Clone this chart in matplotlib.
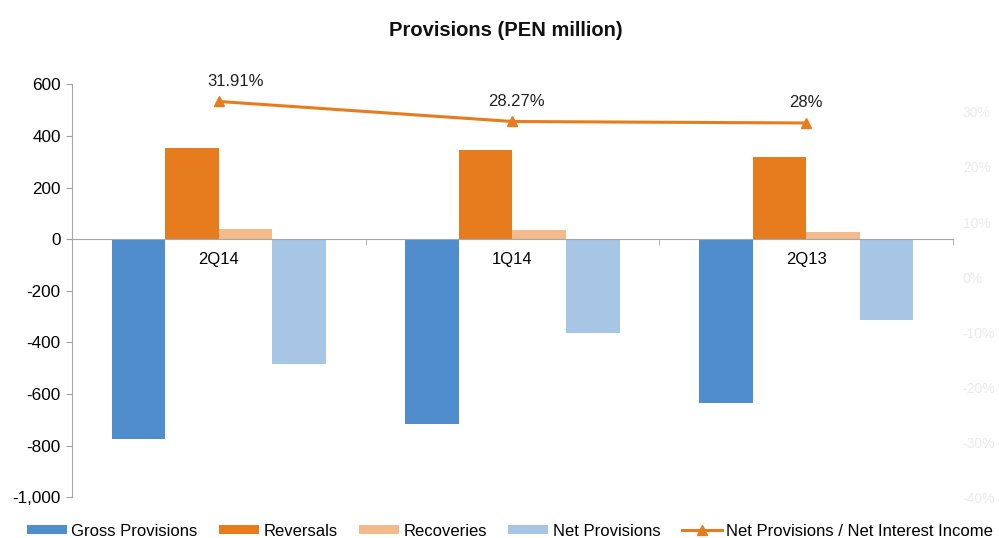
import matplotlib
matplotlib.use("Agg")
import matplotlib.pyplot as plt
from matplotlib.patches import Patch
from matplotlib.lines import Line2D
from matplotlib.ticker import FuncFormatter

plt.rcParams['font.family'] = ['Liberation Sans', 'DejaVu Sans']

# data
quarters = ['2Q14', '1Q14', '2Q13']
gross_provisions = [-774, -718, -634]
reversals = [352, 346, 317]
recoveries = [41, 36, 28]
net_provisions = [-483, -364, -312]
ratio_pct = [31.91, 28.27, 28.0]
ratio_labels = ['31.91%', '28.27%', '28%']

series_names = ['Gross Provisions', 'Reversals', 'Recoveries', 'Net Provisions']
series_colors = ['#4f8dcc', '#e67c1e', '#f3bb8c', '#a7c6e6']
line_color = '#e67c1e'
line_name = 'Net Provisions / Net Interest Income'

fig = plt.figure(figsize=(9.99, 5.38), dpi=100)
ax = fig.add_axes([0.072, 0.076, 0.882, 0.767])

x = list(range(len(quarters)))
w = 0.1826
all_series = [gross_provisions, reversals, recoveries, net_provisions]
for k, (vals, col) in enumerate(zip(all_series, series_colors)):
    offs = (k - 1.5) * w
    ax.bar([i + offs for i in x], vals, width=w, color=col, linewidth=0, zorder=2)

ax.set_xlim(-0.5, len(quarters) - 0.5)
ax.set_ylim(-1000, 600)
ax.set_yticks(range(-1000, 601, 200))
ax.yaxis.set_major_formatter(FuncFormatter(lambda v, p: f'{int(v):,}'))
ax.tick_params(axis='y', labelsize=12.3, length=4, color='#a0a0a0', pad=4)

# category axis sits on zero
ax.spines['bottom'].set_position(('data', 0))
ax.spines['bottom'].set_color('#a6a6a6')
ax.spines['bottom'].set_zorder(3)
ax.spines['left'].set_color('#a6a6a6')
ax.spines['top'].set_visible(False)
ax.spines['right'].set_visible(False)
ax.set_xticks(x)
ax.set_xticklabels(quarters)
ax.set_xticks([i + 0.5 for i in range(len(quarters))], minor=True)
ax.tick_params(axis='x', which='major', length=0, labelsize=12, pad=9)
ax.tick_params(axis='x', which='minor', length=4, color='#a6a6a6')

# secondary axis for the ratio line (labels nearly invisible in the source)
ax2 = ax.twinx()
ax2.set_ylim(-40, 35)
ax2.set_yticks(range(-40, 31, 10))
ax2.set_yticklabels([f'{v}%' for v in range(-40, 31, 10)])
ax2.tick_params(axis='y', length=0, labelsize=10, labelcolor='#ebebeb', pad=7)
for s in ax2.spines.values():
    s.set_visible(False)

ax2.plot(x, ratio_pct, color=line_color, linewidth=2.2, marker='^',
         markersize=7, zorder=4)
label_dx = [12, 3, 0]
for i, (v, lab) in enumerate(zip(ratio_pct, ratio_labels)):
    ax2.annotate(lab, (i, v), xytext=(label_dx[i], 9), textcoords='offset points',
                 ha='center', va='bottom', fontsize=12, color='#222222')

fig.text(0.506, 0.944, 'Provisions (PEN million)', ha='center', va='center',
         fontsize=14.5, fontweight='bold', color='#111111')

handles = [Patch(facecolor=c, linewidth=0) for c in series_colors]
handles.append(Line2D([], [], color=line_color, linewidth=2.2, marker='^', markersize=7))
fig.legend(handles, series_names + [line_name], ncol=5, loc='center left',
           bbox_to_anchor=(0.027, 0.013), frameon=False, fontsize=12,
           handlelength=2.4, handleheight=0.42, handletextpad=0.25,
           columnspacing=1.3, borderpad=0, borderaxespad=0)

fig.savefig('out.png', dpi=100)
